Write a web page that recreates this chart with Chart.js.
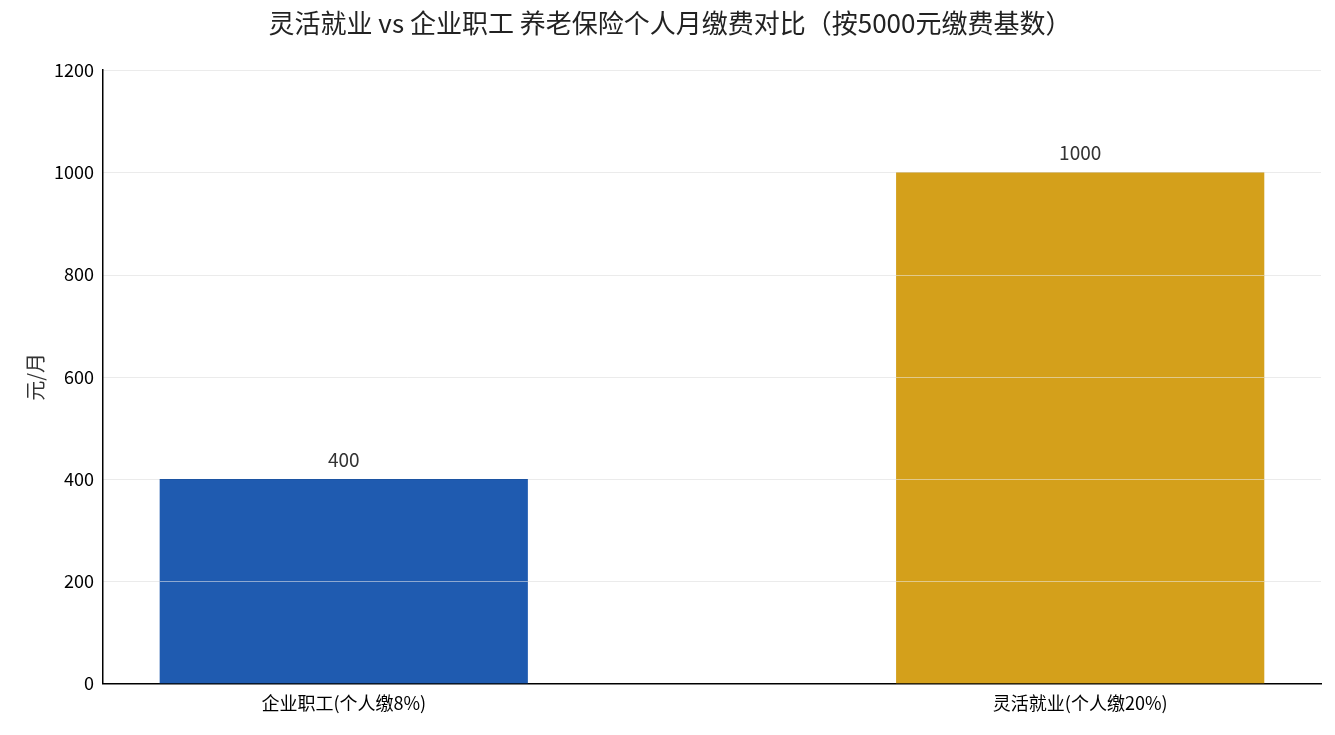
<!DOCTYPE html>
<html><head><meta charset="utf-8">
<script src="https://cdn.jsdelivr.net/npm/chart.js@4/dist/chart.umd.min.js"></script>
<style>html,body{margin:0;background:#fff}#w{width:1335px;height:735px}</style>
</head><body><div id="w"><canvas id="c"></canvas></div>
<script>
const categories = ['企业职工(个人缴8%)', '灵活就业(个人缴20%)'];
const values = [400, 1000];
const colors = ['#1f5bb0', '#d4a01b'];
const yTicks = [0, 200, 400, 600, 800, 1000, 1200];
const F = "'Noto Sans CJK SC', 'Noto Sans', sans-serif";

const overlay = {
  id: 'overlay',
  afterDatasetsDraw(chart) {
    const {ctx, chartArea: a, scales: {y}} = chart;
    ctx.save();
    ctx.strokeStyle = 'rgba(0,0,0,0.08)';
    ctx.lineWidth = 1;
    yTicks.slice(1).forEach(v => {
      const py = Math.round(y.getPixelForValue(v)) + 0.5;
      ctx.beginPath(); ctx.moveTo(a.left, py); ctx.lineTo(a.right, py); ctx.stroke();
    });
    ctx.strokeStyle = 'rgba(255,255,255,0.5)';
    const meta = chart.getDatasetMeta(0);
    meta.data.forEach((bar, i) => {
      yTicks.slice(1).forEach(v => {
        if (v < values[i]) {
          const py = Math.round(y.getPixelForValue(v)) + 0.5;
          ctx.beginPath(); ctx.moveTo(bar.x - bar.width/2, py); ctx.lineTo(bar.x + bar.width/2, py); ctx.stroke();
        }
      });
      ctx.fillStyle = '#333';
      ctx.font = '19px ' + F;
      ctx.textAlign = 'center';
      ctx.textBaseline = 'bottom';
      ctx.fillText(String(values[i]), bar.x, bar.y - 10);
    });
    ctx.restore();
  }
};

new Chart(document.getElementById('c'), {
  type: 'bar',
  data: { datasets: [{ data: values.map((v, i) => ({ x: i, y: v })), backgroundColor: colors, barPercentage: 0.5, categoryPercentage: 1 }] },
  options: {
    responsive: true, maintainAspectRatio: false, animation: false,
    layout: { padding: { left: 19, right: 14, top: 0, bottom: 18 } },
    plugins: {
      legend: { display: false }, tooltip: { enabled: false },
      title: { display: true, text: '灵活就业 vs 企业职工 养老保险个人月缴费对比（按5000元缴费基数）',
        font: { family: F, size: 26, weight: 'normal' }, color: '#222', padding: { top: 8, bottom: 31 } }
    },
    scales: {
      x: { type: 'linear', min: -0.327, max: 1.327, offset: false,
        grid: { display: false, drawTicks: true, tickLength: 6 }, border: { color: '#000', width: 1.5 },
        afterBuildTicks: s => { s.ticks = [{ value: 0 }, { value: 1 }]; },
        ticks: { color: '#000', font: { family: F, size: 18 }, callback: v => categories[v] } },
      y: { min: 0, max: 1200, grid: { display: false, drawTicks: true, tickLength: 6 }, border: { color: '#000', width: 1.5 },
        afterBuildTicks: s => { s.ticks = yTicks.map(v => ({ value: v })); },
        ticks: { color: '#000', font: { family: F, size: 18 }, callback: v => String(v) },
        title: { display: true, text: '元/月', color: '#333', font: { family: F, size: 20 } } }
    }
  },
  plugins: [overlay]
});
</script></body></html>
